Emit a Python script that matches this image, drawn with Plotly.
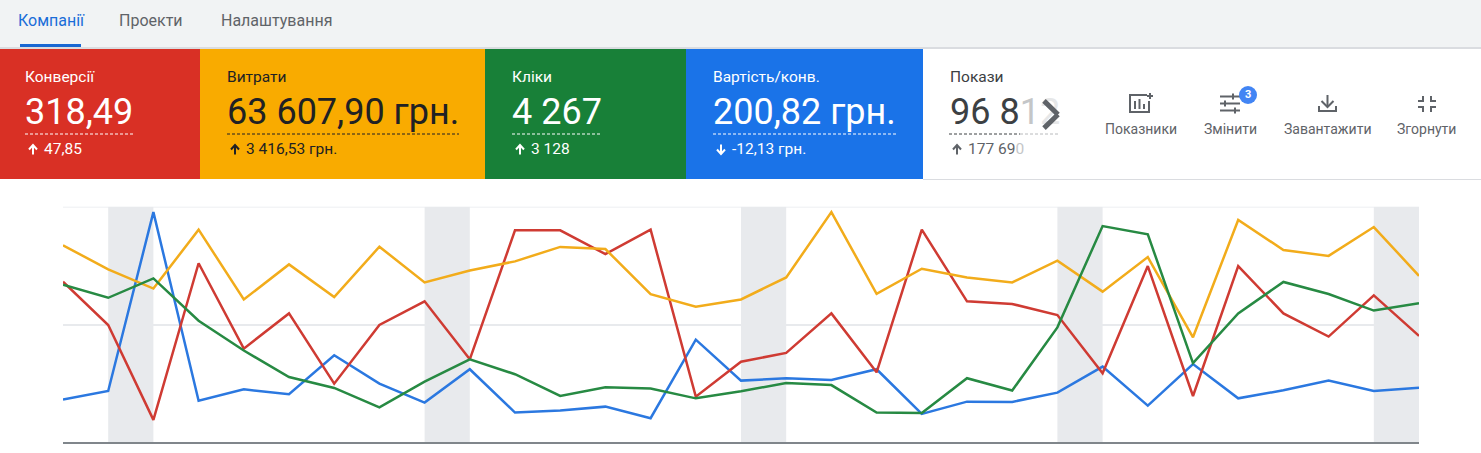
import plotly.graph_objects as go

W, H = 1481, 453

# ---- data (index 0-100) ----
days = list(range(31))
weekend_starts = [1, 8, 15, 22, 29]
cost_per_conv = [18.5, 22.1, 97.7, 18.0, 22.8, 20.7, 37.2, 25.2, 17.2, 31.3, 13.0, 13.9, 15.5, 10.6, 43.8, 26.5,
                 27.5, 26.8, 31.3, 12.4, 17.6, 17.5, 21.4, 32.4, 15.9, 33.5, 19.0, 22.4, 26.5, 22.1, 23.5]
conversions = [68.3, 50.0, 9.9, 76.1, 40.0, 54.9, 25.2, 50.0, 60.0, 35.5, 90.0, 90.0, 80.0, 90.3, 19.7, 34.5,
               38.2, 54.9, 30.0, 90.3, 60.0, 58.9, 54.2, 29.6, 74.9, 20.0, 74.9, 54.9, 45.1, 62.5, 45.4]
costs = [83.7, 73.5, 65.4, 90.3, 60.8, 75.6, 61.8, 83.1, 68.0, 73.0, 76.9, 83.0, 82.1, 63.0, 57.7, 60.8,
         70.1, 97.7, 63.2, 73.8, 70.1, 68.0, 77.2, 64.1, 78.7, 44.8, 94.4, 81.7, 79.2, 91.4, 70.8]
clicks = [67.0, 61.5, 69.7, 51.8, 39.2, 28.0, 23.4, 15.2, 26.1, 35.5, 29.2, 20.0, 23.7, 23.2, 19.0, 22.0,
          25.5, 24.6, 13.0, 12.8, 27.5, 22.3, 49.0, 91.8, 88.3, 33.9, 54.9, 68.2, 63.1, 56.1, 59.2]

tabs = ["Компанії", "Проекти", "Налаштування"]
card_labels = ["Конверсії", "Витрати", "Кліки", "Вартість/конв."]
card_values = ["318,49", "63 607,90 грн.", "4 267", "200,82 грн."]
card_deltas = ["47,85", "3 416,53 грн.", "3 128", "-12,13 грн."]
tool_labels = ["Показники", "Змінити", "Завантажити", "Згорнути"]

RED, YEL, GRN, BLU = "#d93025", "#f9ab00", "#188038", "#1a73e8"
GREY = "#5f6368"
FONT = "Roboto"


def px(x):
    return x / W


def py(y):
    return 1 - y / H


def path_str(cmds):
    out = []
    for c in cmds:
        if len(c) == 1:
            out.append(c[0])
        else:
            out.append(f"{c[0]} {px(c[1]):.5f},{py(c[2]):.5f}")
    return " ".join(out)


shapes, anns = [], []


def rect(x0, y0, x1, y1, color):
    shapes.append(dict(type="rect", xref="paper", yref="paper", x0=px(x0), x1=px(x1), y0=py(y0), y1=py(y1),
                       fillcolor=color, line=dict(width=0), layer="below"))


def seg(x0, y0, x1, y1, color, width=1, dash="solid"):
    shapes.append(dict(type="line", xref="paper", yref="paper", x0=px(x0), x1=px(x1), y0=py(y0), y1=py(y1),
                       line=dict(color=color, width=width, dash=dash), layer="above"))


def poly(cmds, color, width=2):
    shapes.append(dict(type="path", xref="paper", yref="paper", path=path_str(cmds),
                       line=dict(color=color, width=width), layer="above"))


def text(x, y, s, size, color, anchor="left", weight=400):
    anns.append(dict(xref="paper", yref="paper", x=px(x), y=py(y), text=s, showarrow=False, xanchor=anchor,
                     yanchor="middle", borderpad=0, borderwidth=0,
                     font=dict(family=FONT, size=size, color=color, weight=weight)))


def overlay_stroke(x0, y0, x1, y1, color, width):
    # annotations paint above the faded number, so the chevron is built from annotation arrows
    anns.append(dict(xref="paper", yref="paper", x=px(x1), y=py(y1), text=" ", showarrow=True, arrowhead=0,
                     arrowwidth=width, arrowcolor=color, ax=x0 - x1, ay=y0 - y1, axref="pixel", ayref="pixel",
                     standoff=0, startstandoff=0))


def arrow(cx, cy, color, up=True):
    s = 1 if up else -1
    poly([("M", cx, cy + 5 * s), ("L", cx, cy - 4 * s)], color, 2)
    poly([("M", cx - 4, cy), ("L", cx, cy - 4.5 * s), ("L", cx + 4, cy)], color, 2)


# ---- top tabs ----
rect(0, 0, W, 47, "#f1f3f4")
rect(0, 47, W, 49, "#dadce0")
text(18, 20, tabs[0], 16, "#1a6dd8")
text(119, 20, tabs[1], 16, GREY)
text(221, 20, tabs[2], 16, GREY)
rect(20, 44, 81, 47, "#1967d2")

# ---- cards ----
cards = [
    (0, 200, RED, 25, 134, "#ffffff", True),
    (200, 485, YEL, 227, 459, "#202124", True),
    (485, 686, GRN, 512, 601, "#ffffff", True),
    (686, 923, BLU, 713, 896, "#ffffff", False),
]
for i, (x0, x1, fill, tx, dx, col, up) in enumerate(cards):
    rect(x0, 49, x1, 179, fill)
    text(tx, 77, card_labels[i], 15.5, col)
    text(tx, 112, card_values[i], 36, col)
    seg(tx, 134, dx, 134, col, 1, "3px,2px")
    arrow(tx + 8, 149.5, col, up)
    text(tx + 19, 149, card_deltas[i], 15.5, col)

# faded "Покази" card
rect(923, 179, W, 180, "#dadce0")
text(950, 77, "Покази", 15.5, "#3c4043")
text(950, 112, '96 8<span style="color:#c4c6c8">1</span><span style="color:#e6e7e8">2</span>', 36, "#3c4043")
seg(949, 134, 1020, 134, "#3c4043", 1, "3px,2px")
seg(1020, 134, 1059, 134, "#b8babc", 1, "3px,2px")
arrow(957, 149.5, GREY, True)
text(968, 149, '177 69<span style="color:#c4c6c8">0</span>', 15.5, GREY)
overlay_stroke(1041, 98, 1058, 114.5, GREY, 5)
overlay_stroke(1041, 131, 1058, 114.5, GREY, 5)

# ---- toolbar icons ----
# chart-with-plus
poly([("M", 1147, 95), ("L", 1130, 95), ("L", 1130, 112), ("L", 1149, 112), ("L", 1149, 101)], GREY, 2)
for bx, top in zip([1135, 1139.5, 1144], [101, 99, 104]):
    poly([("M", bx, 109), ("L", bx, top)], GREY, 2)
poly([("M", 1147, 96), ("L", 1153, 96)], GREY, 2)
poly([("M", 1150, 93), ("L", 1150, 99)], GREY, 2)
# sliders
for yy, kx in zip([96.5, 103.5, 110.5], [1233, 1225, 1235]):
    poly([("M", 1220, yy), ("L", 1240, yy)], GREY, 2)
    poly([("M", kx, yy - 3), ("L", kx, yy + 3)], GREY, 2)
# badge
shapes.append(dict(type="circle", xref="paper", yref="paper", x0=px(1239), x1=px(1257), y0=py(86), y1=py(104),
                   fillcolor="#4285f4", line=dict(color="#ffffff", width=0), layer="above"))
text(1248, 95, "3", 11, "#ffffff", "center", 700)
# download
poly([("M", 1327.5, 95), ("L", 1327.5, 106)], GREY, 2)
poly([("M", 1321.5, 101), ("L", 1327.5, 107), ("L", 1333.5, 101)], GREY, 2)
poly([("M", 1319, 106), ("L", 1319, 111), ("L", 1336, 111), ("L", 1336, 106)], GREY, 2)
# collapse
poly([("M", 1423, 96), ("L", 1423, 101), ("L", 1418, 101)], GREY, 2)
poly([("M", 1431, 96), ("L", 1431, 101), ("L", 1436, 101)], GREY, 2)
poly([("M", 1418, 107), ("L", 1423, 107), ("L", 1423, 112)], GREY, 2)
poly([("M", 1436, 107), ("L", 1431, 107), ("L", 1431, 112)], GREY, 2)

for cx, s in zip([1140.5, 1230, 1327, 1426], tool_labels):
    text(cx, 129, s, 14, GREY, "center")

# ---- weekend bands and top gridline (data coordinates) ----
for start in weekend_starts:
    shapes.append(dict(type="rect", xref="x", yref="y", x0=start, x1=start + 1, y0=0, y1=100,
                       fillcolor="#e8eaed", line=dict(width=0), layer="below"))
shapes.append(dict(type="line", xref="x", yref="y", x0=0, x1=30, y0=100, y1=100,
                   line=dict(color="#e8eaed", width=1.5), layer="below"))

fig = go.Figure()
series = [("Вартість/конв.", cost_per_conv, "#2b78e0"), ("Конверсії", conversions, "#cf3b33"),
          ("Витрати", costs, "#f2ac1b"), ("Кліки", clicks, "#278a43")]
for name, vals, col in series:
    fig.add_trace(go.Scatter(x=days, y=vals, name=name, mode="lines", line=dict(color=col, width=2.5)))

fig.update_layout(
    width=W, height=H, margin=dict(l=0, r=0, t=0, b=0), autosize=False,
    paper_bgcolor="#ffffff", plot_bgcolor="rgba(0,0,0,0)", showlegend=False,
    shapes=shapes, annotations=anns,
    xaxis=dict(domain=[px(63), px(1419)], range=[0, 30], showgrid=False, zeroline=False, showticklabels=False,
               ticks="", showline=False),
    yaxis=dict(domain=[py(443.3), py(206.7)], range=[0, 100], tickvals=[50], showticklabels=False, ticks="",
               gridcolor="#e8eaed", gridwidth=1.5, zeroline=True, zerolinecolor="#80868b", zerolinewidth=1.5,
               showline=False),
)

fig.write_html("out.html", config={"displayModeBar": False},
               post_script="document.body.style.margin='0';document.body.style.overflow='hidden';")
